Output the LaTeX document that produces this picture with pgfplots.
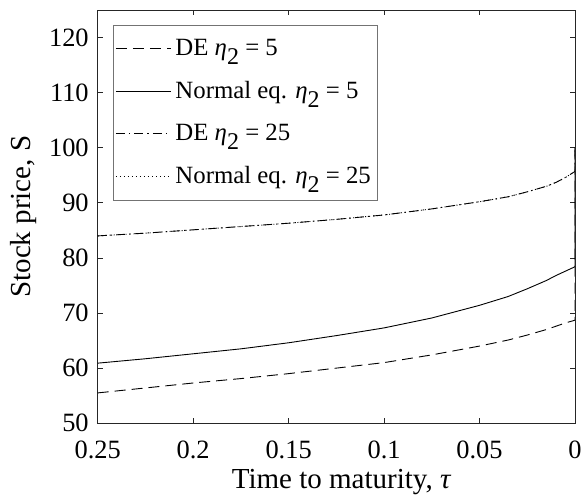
\documentclass[border=0pt]{standalone}
\usepackage{fontspec}
\setmainfont{Liberation Serif}
\usepackage{pgfplots}
\pgfplotsset{compat=1.18}
\newcommand{\etatwo}{{\itshape η}\raisebox{-0.38em}{\fontsize{12}{12}\selectfont 2}}
\begin{document}
\begin{tikzpicture}
\begin{axis}[
    name=ax,
    scale only axis,
    width=238.5pt, height=206.5pt,
    xmin=0, xmax=0.25, ymin=50, ymax=125,
    x dir=reverse,
    xtick={0,0.05,0.1,0.15,0.2,0.25},
    xticklabels={0,0.05,0.1,0.15,0.2,0.25},
    ytick={50,60,70,80,90,100,110,120},
    /pgf/number format/assume math mode=true,
    tick align=inside,
    major tick length=2.6pt,
    tick style={color=black!85, line width=0.4pt},
    axis line style={color=black!85, line width=0.4pt},
    ticklabel style={font=\fontsize{13.2}{15}\selectfont},
    xticklabel style={yshift=-5.5pt},
    yticklabel style={xshift=-1pt},
    xlabel={Time to maturity, {\itshape τ}},
    ylabel={Stock price, S},
    every axis x label/.style={at={(axis description cs:0.51,-0.143)}, anchor=center,
        font=\fontsize{14.5}{17}\selectfont},
    every axis y label/.style={at={(axis description cs:-0.155,0.5)}, rotate=90, anchor=center,
        font=\fontsize{14.5}{17}\selectfont},
    legend cell align=left,
    legend style={at={(0.0314,0.964)}, anchor=north west,
        draw=black!55, line width=0.4pt,
        font=\fontsize{12.4}{14}\selectfont,
        inner xsep=1.2pt, inner ysep=5pt,
        row sep=7.3pt},
    legend image code/.code={\draw[#1] (0pt,0pt) -- (27.5pt,0pt);},
]
\addplot[black, line width=0.45pt, dash pattern=on 5.5pt off 3pt] coordinates {
(0.25,55.5)(0.225,56.4)(0.2,57.3)(0.175,58.1)(0.15,59.0)(0.125,60.0)(0.1,61.0)
(0.075,62.4)(0.05,64.0)(0.035,65.1)(0.025,66.0)(0.015,67.0)(0.01,67.6)(0.005,68.2)(0,68.7)(0,100)};
\addlegendentry{DE \etatwo{} = 5}
\addplot[black, line width=0.45pt] coordinates {
(0.25,60.9)(0.225,61.7)(0.2,62.6)(0.175,63.5)(0.15,64.6)(0.125,65.9)(0.1,67.3)
(0.075,69.1)(0.05,71.4)(0.035,73.0)(0.025,74.4)(0.015,75.9)(0.01,76.8)(0.005,77.6)(0,78.4)(0,100)};
\addlegendentry{Normal eq. \etatwo{} = 5}
\addplot[black, line width=0.45pt, dash pattern=on 4.5pt off 2pt on 0.7pt off 2pt] coordinates {
(0.25,84.0)(0.225,84.5)(0.2,85.1)(0.175,85.7)(0.15,86.3)(0.125,87.0)(0.1,87.8)
(0.075,88.9)(0.05,90.2)(0.035,91.1)(0.025,92.0)(0.015,93.0)(0.01,93.7)(0.005,94.6)(0,95.7)(0,100)};
\addlegendentry{DE \etatwo{} = 25}
\addplot[black, line width=0.45pt, dash pattern=on 0.5pt off 1.5pt] coordinates {
(0.25,84.0)(0.225,84.5)(0.2,85.1)(0.175,85.7)(0.15,86.3)(0.125,87.0)(0.1,87.8)
(0.075,88.9)(0.05,90.2)(0.035,91.1)(0.025,92.0)(0.015,93.0)(0.01,93.7)(0.005,94.6)(0,95.7)(0,100)};
\addlegendentry{Normal eq. \etatwo{} = 25}
\end{axis}
\pgfresetboundingbox
\path ([xshift=-48.85pt,yshift=-40pt]ax.south west) rectangle ([xshift=5pt,yshift=5pt]ax.north east);
\end{tikzpicture}
\end{document}
